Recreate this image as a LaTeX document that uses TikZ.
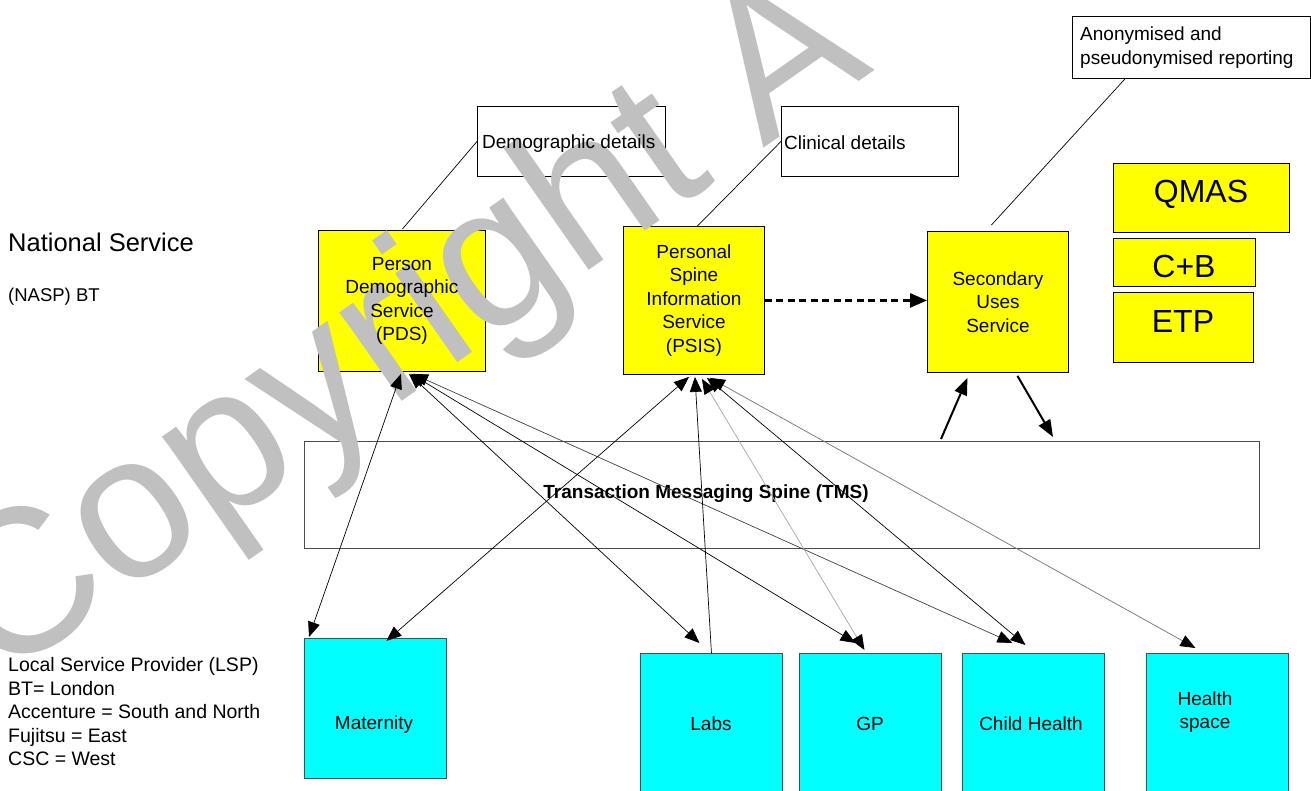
\documentclass[tikz,border=0pt]{standalone}
\usepackage{fontspec}
\setmainfont{Liberation Sans}
\usetikzlibrary{arrows.meta,calc}
\definecolor{wmgrey}{RGB}{192,192,192}
\definecolor{ylw}{RGB}{255,255,0}
\definecolor{cyn}{RGB}{0,255,255}
\begin{document}
\begin{tikzpicture}[x=1pt,y=-1pt,
  box/.style={draw=black, line width=0.9pt, inner sep=0pt, anchor=north west},
  ybox/.style={box, fill=ylw},
  cbox/.style={box, draw=black!70, fill=cyn},
  wbox/.style={box, fill=white},
  txt/.style={font=\fontsize{19}{23.5}\selectfont, inner sep=0pt, align=center},
  big/.style={font=\fontsize{32}{36}\selectfont, inner sep=0pt},
  link/.style={line width=0.7pt},
  both/.style={line width=0.7pt, {Triangle[length=15pt,width=12pt,color=black]}-{Triangle[length=15pt,width=12pt,color=black]}},
  one/.style={line width=0.7pt, -{Triangle[length=15pt,width=12pt,color=black]}},
  heavy/.style={line width=2pt, -{Triangle[length=17pt,width=13pt]}},
]
\path[use as bounding box, clip] (0,0) rectangle (1311,791);

% boxes
\node[ybox, minimum width=167pt, minimum height=141pt] (pds) at (318,230) {};
\node[ybox, minimum width=141pt, minimum height=148pt] (psis) at (623,226) {};
\node[ybox, minimum width=141pt, minimum height=141pt] (sus) at (927,231) {};
\node[wbox, minimum width=188pt, minimum height=70pt] (demo) at (477,106) {};
\node[wbox, minimum width=177pt, minimum height=70pt] (clin) at (781,106) {};
\node[wbox, minimum width=238pt, minimum height=62pt] (anon) at (1072,16) {};
\node[ybox, minimum width=176pt, minimum height=69pt] (qmas) at (1113,163) {};
\node[ybox, minimum width=142pt, minimum height=48pt] (cb) at (1113,238) {};
\node[ybox, minimum width=140pt, minimum height=70pt] (etp) at (1113,292) {};
\node[box, draw=black!70, minimum width=955pt, minimum height=107pt] (tms) at (304,441) {};
\node[cbox, minimum width=142pt, minimum height=140pt] (mat) at (304,638) {};
\node[cbox, minimum width=142pt, minimum height=140pt] (labs) at (640,653) {};
\node[cbox, minimum width=142pt, minimum height=140pt] (gp) at (799,653) {};
\node[cbox, minimum width=142pt, minimum height=140pt] (child) at (962,653) {};
\node[cbox, minimum width=142pt, minimum height=140pt] (hs) at (1146,653) {};

% watermark
\node[text=wmgrey, font=\fontsize{205}{205}\selectfont, rotate=35, anchor=base west, inner sep=0pt] (wmk) at (-1.5,684) {Copyright A};

% labels
\node[txt] (pdst) at (pds.center) {Person\\Demographic\\Service\\(PDS)};
\node[txt] (psist) at (psis.center) {Personal\\Spine\\Information\\Service\\(PSIS)};
\node[txt] (sust) at (sus.center) {Secondary\\Uses\\Service};
\node[txt, anchor=west] (demot) at ($(demo.west)+(5,2)$) {Demographic details};
\node[txt, anchor=west] (clint) at ($(clin.west)+(3,1)$) {Clinical details};
\node[txt, anchor=west, align=left] (anont) at ($(anon.west)+(8,0)$) {Anonymised and\\pseudonymised reporting};
\node[big] (qmast) at (1201,194) {QMAS};
\node[big] (cbt) at (1184,266) {C+B};
\node[big] (etpt) at (1183,321) {ETP};
\node[txt, font=\bfseries\fontsize{19}{23.5}\selectfont] (tmst) at (706,494) {Transaction Messaging Spine (TMS)};
\node[txt] (matt) at (374,725) {Maternity};
\node[txt] (labst) at (711,724) {Labs};
\node[txt] (gpt) at (870,724) {GP};
\node[txt] (childt) at (1031,724) {Child Health};
\node[txt] (hst) at (1205,712) {Health\\space};

\node[anchor=west, inner sep=0pt, font=\fontsize{25.5}{30}\selectfont] (nat) at (8,242) {National Service};
\node[anchor=west, inner sep=0pt, font=\fontsize{18.5}{22}\selectfont] (nasp) at (8,297) {(NASP) BT};
\node[anchor=west, inner sep=0pt, align=left, font=\fontsize{19.5}{23.5}\selectfont] (lsp) at (8,712)
  {Local Service Provider (LSP)\\BT= London\\Accenture = South and North\\Fujitsu = East\\CSC = West};

% connectors to detail boxes
\draw[link] ($(pds.north)+(0.5,-1)$) -- (demo.west);
\draw[link] ($(psis.north)+(3.5,0)$) -- (clin.west);
\draw[link] ($(sus.north)+(-6.5,-6)$) -- ($(anon.south west)+(53,0)$);

% PDS arrows
\draw[both] ($(pds.south)+(-1,2)$) -- ($(mat.north west)+(5,-1)$);
\draw[both] ($(pds.south)+(7,2)$) -- ($(labs.north)+(-12,-10)$);
\draw[both] ($(pds.south)+(9,2)$) -- ($(gp.north)+(-15,-10)$);
\draw[both, draw=black!75] ($(pds.south)+(11,2)$) -- ($(child.north)+(-21,-10)$);

% PSIS arrows
\draw[both] ($(psis.south)+(-5,2)$) -- ($(mat.north)+(11,3)$);
\draw[one] (labs.north) -- ($(psis.south)+(1,2)$);
\draw[both, draw=black!35] ($(psis.south)+(8,4)$) -- ($(gp.north)+(-6,-3)$);
\draw[both] ($(psis.south)+(13,3)$) -- ($(child.north)+(-8,-8)$);
\draw[both, draw=black!55] ($(psis.south)+(16,3)$) -- ($(hs.north)+(-22,-5)$);

% SUS arrows
\draw[heavy] ($(tms.north west)+(637,-2)$) -- ($(sus.south)+(-30.5,5)$);
\draw[heavy] ($(sus.south)+(19.5,3)$) -- ($(tms.north west)+(749,-4)$);
\draw[line width=2.8pt, dash pattern=on 7pt off 4.5pt, -{Triangle[length=17pt,width=14pt]}] (psis.east) -- (psis.east -| sus.west);

\end{tikzpicture}
\end{document}
